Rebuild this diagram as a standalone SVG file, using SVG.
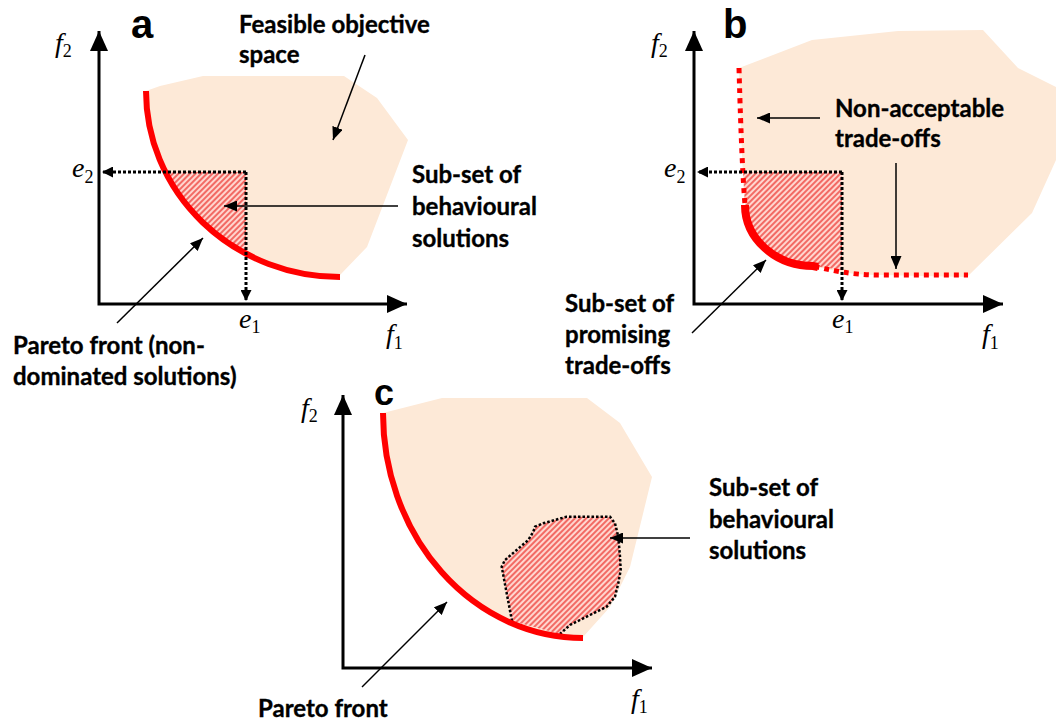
<svg xmlns="http://www.w3.org/2000/svg" width="1056" height="722" viewBox="0 0 1056 722">
<defs>
<style>
.region{fill:#fde9d7;stroke:none}
.hatch{fill:url(#hatch);stroke:none}
.axis{fill:none;stroke:#000;stroke-width:3;marker-start:url(#axisHead);marker-end:url(#axisHead)}
.front{fill:none;stroke:#ff0000;stroke-width:6}
.frontDot{fill:none;stroke:#ff0000;stroke-width:5;stroke-dasharray:5 5}
.dotline{fill:none;stroke:#000;stroke-width:3;stroke-dasharray:3 2;marker-end:url(#dotHead)}
.thin{fill:none;stroke:#000;stroke-width:1.5;marker-end:url(#thinHead)}
.lbl{font-family:Lato,"Liberation Sans",sans-serif;font-weight:bold;font-size:24px;fill:#000;stroke:#000;stroke-width:0.35}
.panel{font-family:"Liberation Sans",Arial,sans-serif;font-weight:bold;font-size:40px;fill:#000}
.math{font-family:"Liberation Serif","Times New Roman",serif;font-style:italic;font-size:28px;fill:#000}
.sub{font-style:normal;font-size:18px}
</style>
<pattern id="hatch" patternUnits="userSpaceOnUse" width="4" height="4" patternTransform="rotate(-45)">
<rect width="4" height="4" fill="#ffd6cf"/>
<rect width="4" height="2" fill="#f26a64"/>
</pattern>
<marker id="axisHead" markerUnits="userSpaceOnUse" markerWidth="20" markerHeight="18" refX="20" refY="9" orient="auto-start-reverse">
<path d="M0,0 L20,9 L0,18 Z" fill="#000"/>
</marker>
<marker id="dotHead" markerUnits="userSpaceOnUse" markerWidth="11" markerHeight="11" refX="11" refY="5.5" orient="auto">
<path d="M0,0 L11,5.5 L0,11 Z" fill="#000"/>
</marker>
<marker id="thinHead" markerUnits="userSpaceOnUse" markerWidth="13" markerHeight="11" refX="13" refY="5.5" orient="auto">
<path d="M0,0 L13,5.5 L0,11 Z" fill="#000"/>
</marker>
</defs>

<!-- Panel a -->
<g id="panel-a">
<path class="region" d="M146,91 L160,86 L203,76 L344,76 L377,98 L408,140 L367,247 L340,275 L340,277 A194,186 0 0 1 146,91 Z"/>
<path class="hatch" d="M165.4,172 L246,172 L246,253.7 A194,186 0 0 1 165.4,172 Z"/>
<path class="front" d="M146,91 A194,186 0 0 0 340,277"/>
<path class="axis" d="M99,31 L99,304 L407,304"/>
<text class="panel" x="131" y="38">a</text>
<text class="math" x="55" y="52">f<tspan class="sub" dy="5">2</tspan></text>
<text class="math" x="386" y="343">f<tspan class="sub" dy="6">1</tspan></text>
<text class="math" x="72" y="177">e<tspan class="sub" dy="6">2</tspan></text>
<text class="math" x="239" y="328">e<tspan class="sub" dy="5">1</tspan></text>
</g>
<g id="label-feasible"><text class="lbl" x="239" y="33">Feasible objective</text><text class="lbl" x="239" y="63">space</text></g>
<g id="label-behavioural-a"><text class="lbl" x="412" y="183">Sub-set of</text><text class="lbl" x="412" y="215">behavioural</text><text class="lbl" x="412" y="247">solutions</text></g>
<g id="label-pareto-a"><text class="lbl" x="13" y="354">Pareto front (non-</text><text class="lbl" x="13" y="385">dominated solutions)</text></g>

<!-- Panel b -->
<g id="panel-b">
<path class="region" d="M739,68 L812,40 L898,31 L983,30 L1018,68 L1056,87 L1056,160 L1032,213 L967,277 L880,275 C850,275 830,270 813,266 A68,61 0 0 1 745,205 C743,180 741,140 739,68 Z"/>
<path class="hatch" d="M743,172 L842,172 L842,270 L813,266 A68,61 0 0 1 745,205 Z"/>
<path class="frontDot" d="M739,68 C741,140 743,180 745,205 A68,61 0 0 0 813,266 C830,270 850,275 880,275 L968,275"/>
<path class="front" style="stroke-width:8" d="M745,205 A68,61 0 0 0 813,266 L818,267"/>
<path class="axis" d="M694,31 L694,304 L1003,304"/>
<text class="panel" x="723" y="38">b</text>
<text class="math" x="651" y="52">f<tspan class="sub" dy="5">2</tspan></text>
<text class="math" x="982" y="343">f<tspan class="sub" dy="6">1</tspan></text>
<text class="math" x="664" y="177">e<tspan class="sub" dy="6">2</tspan></text>
<text class="math" x="832" y="328">e<tspan class="sub" dy="5">1</tspan></text>
</g>
<g id="label-nonacceptable"><text class="lbl" x="835" y="117">Non-acceptable</text><text class="lbl" x="835" y="147">trade-offs</text></g>
<g id="label-promising"><text class="lbl" x="565" y="312">Sub-set of</text><text class="lbl" x="565" y="343">promising</text><text class="lbl" x="565" y="374">trade-offs</text></g>

<!-- Panel c -->
<g id="panel-c">
<path class="region" d="M383,413 L442,398 L587,398 L620,423 L652,477 L630,567 L610,607 L583,637 L583,638 A200,225 0 0 1 383,413 Z"/>
<path class="hatch" d="M512,621 L506.7,593.3 L501.7,566.7 L505,560 L516.7,550 L528.3,540 L533.3,531.7 L535,526.7 L543.3,523.3 L566.7,516.7 L610,516.7 L615,523.3 L618.3,536.7 L620,556.7 L620.7,570 L618.3,583.3 L615,596.7 L606.7,606.7 L590,615 L580,620 L570,625 L560,634 Z"/>
<path d="M512,621 L506.7,593.3 L501.7,566.7 L505,560 L516.7,550 L528.3,540 L533.3,531.7 L535,526.7 L543.3,523.3 L566.7,516.7 L610,516.7 L615,523.3 L618.3,536.7 L620,556.7 L620.7,570 L618.3,583.3 L615,596.7 L606.7,606.7 L590,615 L580,620 L570,625 L560,634" fill="none" stroke="#000" stroke-width="2.5" stroke-dasharray="2.5 2"/>
<path class="front" d="M383,413 A200,225 0 0 0 583,638"/>
<path class="axis" d="M343,395 L343,668 L652,668"/>
<text class="panel" x="374" y="405" style="font-size:36px">c</text>
<text class="math" x="301" y="417">f<tspan class="sub" dy="5">2</tspan></text>
<text class="math" x="631" y="708">f<tspan class="sub" dy="5">1</tspan></text>
</g>
<g id="label-behavioural-c"><text class="lbl" x="709" y="496">Sub-set of</text><text class="lbl" x="709" y="528">behavioural</text><text class="lbl" x="709" y="559">solutions</text></g>
<g id="label-pareto-c"><text class="lbl" x="258" y="717">Pareto front</text></g>

<!-- Connectors -->
<g id="connectors">
<line class="dotline" x1="246" y1="172" x2="102" y2="172"/>
<line class="dotline" x1="246" y1="172" x2="246" y2="301"/>
<line class="dotline" x1="842" y1="172" x2="697" y2="172"/>
<line class="dotline" x1="842" y1="172" x2="842" y2="301"/>
<line class="thin" x1="365" y1="55" x2="333" y2="140"/>
<line class="thin" x1="398" y1="206" x2="224" y2="206"/>
<line class="thin" x1="117" y1="323" x2="203" y2="238"/>
<line class="thin" x1="820" y1="118" x2="757" y2="118"/>
<line class="thin" x1="896" y1="163" x2="896" y2="269"/>
<line class="thin" x1="692" y1="333" x2="766" y2="260"/>
<line class="thin" x1="690" y1="538" x2="610" y2="538"/>
<line class="thin" x1="362" y1="687" x2="447" y2="602"/>
</g>
</svg>
